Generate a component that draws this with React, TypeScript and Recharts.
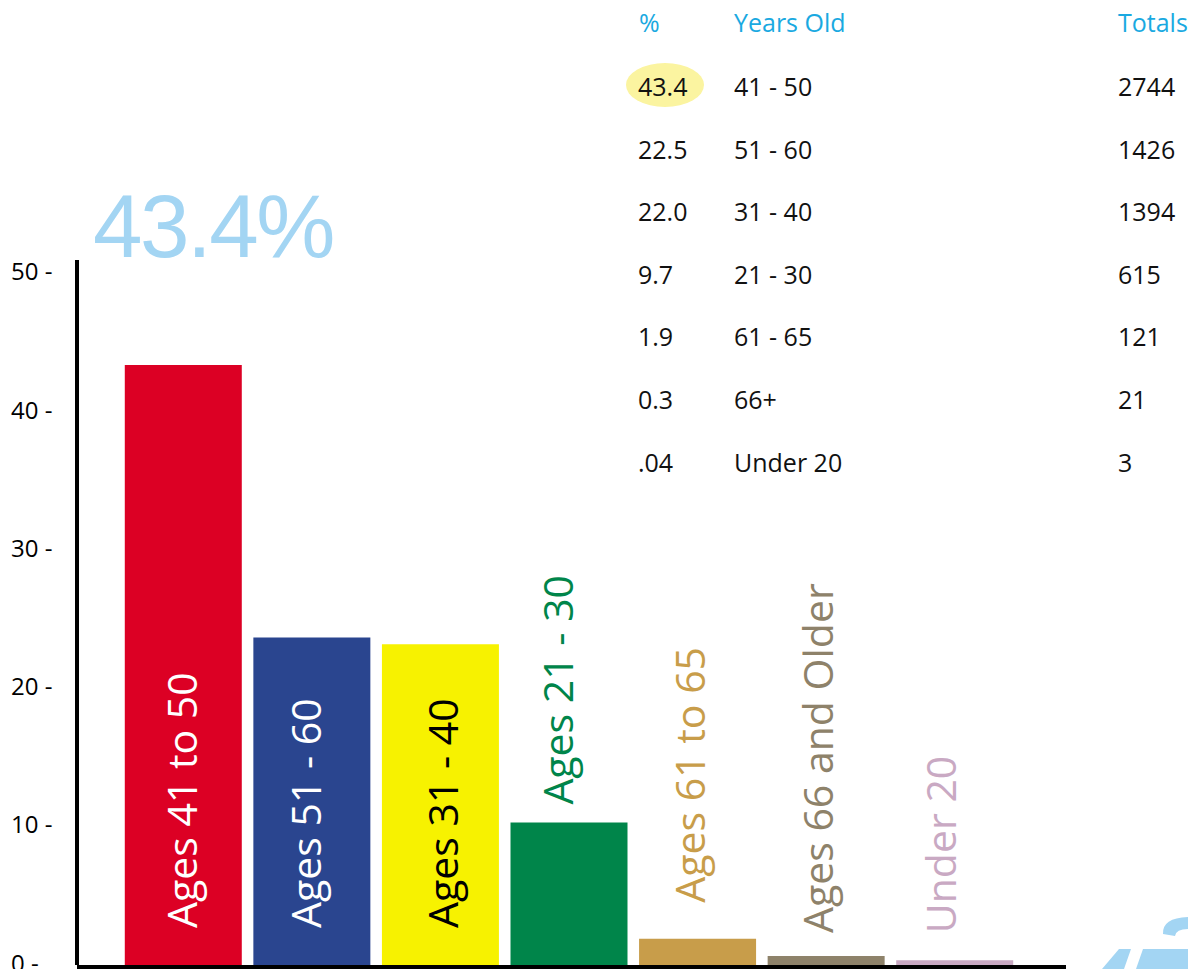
import React from "react";
import { BarChart, Bar, Cell, XAxis, YAxis, LabelList } from "recharts";

// bar data
const categories = [
  "Ages 41 to 50",
  "Ages 51 - 60",
  "Ages 31 - 40",
  "Ages 21 - 30",
  "Ages 61 to 65",
  "Ages 66 and Older",
  "Under 20",
];
const barValues = [43.4, 23.7, 23.2, 10.3, 1.9, 0.65, 0.35];
const yTicks = [0, 10, 20, 30, 40, 50];

// table in the top right
const pctLabels = ["43.4", "22.5", "22.0", "9.7", "1.9", "0.3", ".04"];
const ageRanges = ["41 - 50", "51 - 60", "31 - 40", "21 - 30", "61 - 65", "66+", "Under 20"];
const totals = ["2744", "1426", "1394", "615", "121", "21", "3"];
const headline = "43.4%";

// styles
const barColors = ["#dc0024", "#2a458f", "#f7f200", "#00854a", "#c89d4a", "#8e826a", "#c9a9c3"];
const labelColors = ["#ffffff", "#ffffff", "#000000", "#00854a", "#c89d4a", "#8e826a", "#c9a9c3"];
const labelInside = [true, true, true, false, false, false, false];
const labelLift = [37, 37, 37, 18, 36, 23, 27];
const labelDx = [72, 68, 76, 62, 66, 65, 60];

const FONT = "'Open Sans', sans-serif";
const data = categories.map((name, i) => ({ name, value: barValues[i] }));

const renderLabel = (props: any) => {
  const { x, y, width, height, index, value } = props;
  const bx = Number(x) + labelDx[index];
  const by = labelInside[index]
    ? Number(y) + Number(height) - labelLift[index]
    : Number(y) - labelLift[index];
  return (
    <text
      transform={`translate(${bx},${by}) rotate(-90)`}
      x={0}
      y={0}
      fill={labelColors[index]}
      fontSize={41}
      fontFamily={FONT}
      textAnchor="start"
    >
      {value}
    </text>
  );
};

// y ticks are left aligned in the original, sitting a touch above the value
const YTick = (props: any) => {
  const { y, payload } = props;
  return (
    <text
      x={11}
      y={Number(y) - 3}
      fill="#000"
      fontSize={24}
      fontFamily={FONT}
      textAnchor="start"
      dominantBaseline="central"
    >
      {`${payload.value} -`}
    </text>
  );
};

const cell = (left: number, top: number, text: string, color: string) => (
  <div
    key={`${left}-${top}-${text}`}
    style={{
      position: "absolute",
      left,
      top: top - 18,
      height: 36,
      lineHeight: "36px",
      fontSize: 25,
      fontFamily: FONT,
      color,
      whiteSpace: "nowrap",
    }}
  >
    {text}
  </div>
);

export default function App() {
  const rowY = (i: number) => 86 + i * 62.6;
  return (
    <div style={{ position: "absolute", left: 0, top: 0, width: 1188, height: 969, background: "#fff", overflow: "hidden" }}>
      <BarChart
        width={1188}
        height={969}
        data={data}
        margin={{ top: 260, right: 122, bottom: 2, left: 0 }}
        barCategoryGap="4.5%"
      >
        <XAxis
          dataKey="name"
          tick={false}
          tickLine={false}
          height={2}
          padding={{ left: 42, right: 47 }}
          axisLine={{ stroke: "#000", strokeWidth: 4, transform: "translate(0,2)" }}
        />
        <YAxis
          domain={[0, 51]}
          ticks={yTicks}
          width={77}
          tickLine={false}
          tickSize={0}
          tickMargin={20}
          tick={<YTick />}
          axisLine={{ stroke: "#000", strokeWidth: 4 }}
          interval={0}
        />
        <Bar dataKey="value" isAnimationActive={false}>
          {data.map((d, i) => (
            <Cell key={d.name} fill={barColors[i]} />
          ))}
          <LabelList dataKey="name" content={renderLabel} />
        </Bar>
      </BarChart>

      {/* big headline number */}
      <div
        style={{
          position: "absolute",
          left: 93,
          top: 259 - 81,
          fontSize: 89,
          lineHeight: "100px",
          height: 100,
          fontFamily: "'Liberation Sans', Arial, sans-serif",
          letterSpacing: -2.5,
          color: "#a3d5f3",
        }}
      >
        <span style={{ position: "absolute", top: -2, whiteSpace: "nowrap" }}>{headline}</span>
      </div>

      {/* table highlight and partial logo */}
      <svg style={{ position: "absolute", left: 0, top: 0 }} width={1188} height={969} pointerEvents="none">
        <ellipse cx={665} cy={85} rx={39} ry={22} fill="#fbf4a0" />
        <path d="M1163,934 Q1162,918 1188,917 L1188,929 Q1176,929 1175,936 Z" fill="#a3d5f3" />
        <path d="M1102,969 L1119,949 L1131,949 L1124,969 Z" fill="#a3d5f3" />
        <path d="M1136,969 L1143,949 L1188,949 L1188,969 Z" fill="#a3d5f3" />
      </svg>
      {cell(639, 22, "%", "#1aa9e1")}
      {cell(734, 22, "Years Old", "#1aa9e1")}
      {cell(1118, 22, "Totals", "#1aa9e1")}
      {pctLabels.map((p, i) => cell(638, rowY(i), p, "#111"))}
      {ageRanges.map((a, i) => cell(734, rowY(i), a, "#111"))}
      {totals.map((t, i) => cell(1118, rowY(i), t, "#111"))}
    </div>
  );
}
